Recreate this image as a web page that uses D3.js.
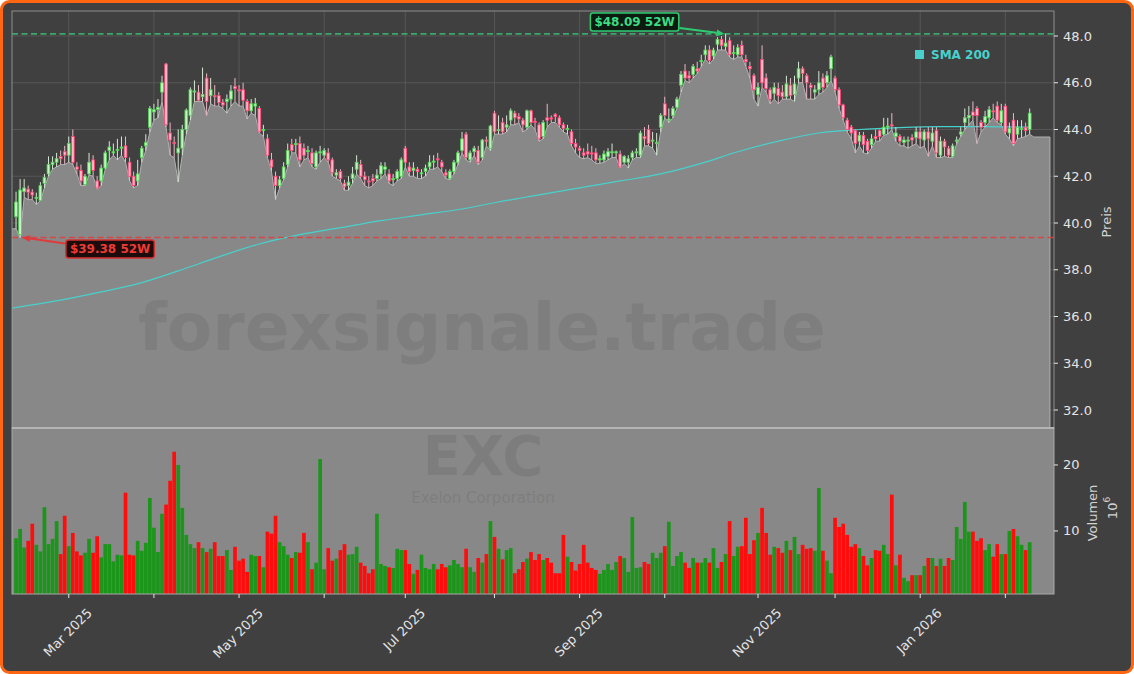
<!DOCTYPE html>
<html lang="de">
<head>
<meta charset="utf-8"/>
<title>EXC – Exelon Corporation</title>
<script src="https://cdn.jsdelivr.net/npm/d3@7/dist/d3.min.js"></script>
<style>
  html, body { margin:0; padding:0; background:#fff; overflow:hidden; }
  svg { display:block; font-family:"DejaVu Sans", sans-serif; }
</style>
</head>
<body>
<svg id="chart" width="1134" height="674"></svg>
<script>
// --- Kursdaten (Index = Handelstag, Feb 2025 .. Feb 2026) ---
const O = [
 40.27,39.50,41.34,41.45,41.32,41.05,40.96,41.70,42.10,42.50,
 42.60,42.85,43.05,42.90,43.70,42.40,42.25,41.65,42.10,42.70,
 41.80,41.80,42.35,43.10,43.00,43.10,43.20,43.30,42.60,42.00,
 41.80,42.80,43.30,44.10,44.75,44.85,45.60,46.80,43.85,43.45,
 43.00,43.20,44.00,44.60,45.60,45.60,45.40,46.20,45.45,45.45,
 45.45,45.15,45.20,45.30,45.85,45.70,45.70,45.20,44.80,45.00,
 44.90,43.95,43.60,42.70,42.00,41.60,41.90,42.50,43.35,43.35,
 43.40,43.20,43.05,43.00,42.40,43.00,42.90,43.00,42.70,42.05,
 42.20,41.70,41.60,41.90,42.30,42.50,42.00,41.80,41.90,41.90,
 42.10,42.30,42.10,41.85,41.90,42.00,43.20,42.40,42.25,42.30,
 42.10,42.20,42.40,42.60,42.75,42.60,42.15,41.90,42.20,42.60,
 43.10,43.80,42.70,43.05,43.10,42.80,43.55,43.20,44.70,43.95,
 44.30,44.10,44.40,44.70,44.55,44.40,44.10,44.80,44.35,44.20,
 43.70,44.50,44.50,44.65,44.50,44.20,44.00,43.90,43.40,43.20,
 43.00,43.05,43.00,43.00,42.70,42.70,42.85,43.00,43.00,42.95,
 42.60,42.60,42.80,43.00,42.90,43.70,44.00,43.50,43.40,44.10,
 45.10,44.40,44.60,44.95,45.90,46.50,46.30,46.35,46.60,46.90,
 47.20,47.40,47.15,47.65,47.85,47.55,47.80,47.25,47.20,47.60,
 47.00,46.70,46.30,45.50,47.00,46.20,45.70,45.55,45.75,45.60,
 45.40,45.90,45.50,46.20,46.60,46.30,45.90,45.60,45.70,46.20,
 46.00,46.60,46.20,45.70,45.05,44.40,44.10,43.95,43.50,43.75,
 43.50,43.35,43.70,43.95,43.80,44.10,44.20,43.70,43.70,43.45,
 43.50,43.65,43.65,43.90,43.55,43.90,43.50,43.95,42.90,43.50,
 43.20,42.85,43.50,43.80,44.30,44.50,44.75,44.90,44.30,44.30,
 44.50,44.80,45.00,44.30,45.00,43.85,44.40,43.80,44.00,44.10,
 44.00
];
const H = [
 41.34,41.88,41.88,41.60,41.45,41.30,41.75,42.10,42.85,42.85,
 43.00,43.10,43.30,43.70,44.00,42.60,42.50,42.10,43.00,42.90,
 42.00,42.50,43.10,43.50,43.40,43.60,43.70,43.70,42.80,42.20,
 42.70,43.30,43.80,45.00,45.10,45.30,46.30,46.85,44.30,43.70,
 44.00,44.20,44.90,45.80,46.10,45.90,46.65,46.40,46.20,45.90,
 45.60,45.30,45.50,45.90,46.20,45.90,46.00,45.30,45.30,45.35,
 45.00,44.20,43.80,43.00,42.20,42.00,42.60,43.40,43.60,43.60,
 43.70,43.40,43.30,43.20,43.10,43.30,43.20,43.20,42.80,42.30,
 42.30,41.85,42.00,42.40,42.90,42.70,42.20,42.00,42.10,42.30,
 42.60,42.60,42.30,42.10,42.30,42.80,43.30,42.60,42.60,42.40,
 42.30,42.50,42.90,42.90,43.00,42.70,42.30,42.30,42.70,43.10,
 43.90,43.90,43.10,43.30,43.30,43.60,43.70,44.20,44.80,44.60,
 44.50,44.60,44.90,44.80,44.70,44.50,44.85,44.85,44.50,44.30,
 44.40,45.10,44.60,44.70,44.60,44.30,44.20,44.00,43.60,43.30,
 43.20,43.40,43.30,43.20,42.90,43.10,43.20,43.40,43.10,43.10,
 42.90,42.90,43.10,43.20,43.95,44.10,44.20,43.90,43.85,44.70,
 45.40,44.90,45.00,45.40,46.50,46.80,46.50,46.80,46.90,47.20,
 47.60,47.60,47.50,47.95,48.00,48.09,47.95,47.60,47.65,47.80,
 47.20,46.90,46.40,46.00,47.60,46.40,45.80,46.00,46.00,45.90,
 46.30,46.20,46.30,46.90,46.70,46.40,46.00,45.90,46.50,46.40,
 46.50,47.20,46.30,45.80,45.10,44.50,44.20,44.00,43.90,43.90,
 43.60,43.80,44.00,44.00,44.50,44.50,44.70,44.10,43.80,43.70,
 43.70,43.80,44.10,44.10,44.00,44.10,44.10,44.10,43.70,43.60,
 43.30,43.40,43.70,44.10,44.90,45.00,45.20,45.00,44.40,44.80,
 45.00,45.10,45.20,45.10,45.10,44.30,44.70,44.40,44.40,44.30,
 44.90
];
const L = [
 39.75,39.38,41.10,41.00,41.00,40.80,40.95,41.50,42.00,42.30,
 42.40,42.50,42.50,42.60,42.50,42.10,41.60,41.60,42.05,42.00,
 41.45,41.60,42.30,42.70,42.90,42.70,42.90,42.60,41.80,41.50,
 41.60,42.60,43.10,43.90,44.40,44.50,45.20,44.10,42.90,42.80,
 41.75,42.90,43.80,44.40,45.20,45.20,45.20,44.60,45.10,45.00,
 45.00,44.90,44.70,45.00,45.20,45.00,45.00,44.45,44.70,44.60,
 43.85,43.70,42.80,42.20,41.00,41.50,41.85,42.40,43.00,43.00,
 42.40,42.70,42.80,42.40,42.30,42.60,42.80,42.60,42.00,41.90,
 41.80,41.40,41.40,41.70,42.10,41.90,41.60,41.50,41.60,41.80,
 41.90,42.10,41.70,41.60,41.80,41.90,42.40,42.00,42.00,41.90,
 41.90,42.00,42.30,42.30,42.40,42.20,41.90,41.85,42.10,42.50,
 43.00,42.70,42.60,42.90,42.50,42.70,43.30,43.10,43.80,43.80,
 43.80,43.90,44.20,44.20,44.30,43.90,44.00,44.20,44.00,43.50,
 43.60,44.10,44.30,44.30,44.10,43.90,43.80,43.30,43.00,42.80,
 42.75,42.80,42.70,42.55,42.55,42.60,42.70,42.80,42.80,42.35,
 42.55,42.35,42.70,42.80,42.80,43.30,43.30,43.20,42.90,43.90,
 44.50,44.30,44.50,44.90,45.60,46.10,46.00,46.20,46.40,46.70,
 47.00,46.80,47.00,47.40,47.40,47.40,47.10,47.00,47.10,47.10,
 46.70,46.20,45.30,45.00,45.80,45.60,45.10,45.30,45.10,45.30,
 45.30,45.30,45.20,46.00,46.00,45.30,45.30,45.30,45.50,45.60,
 45.80,46.10,45.60,44.90,44.40,43.90,43.60,43.00,43.30,43.00,
 42.95,43.20,43.50,43.50,43.75,43.80,44.00,43.50,43.30,43.30,
 43.20,43.30,43.40,43.20,43.30,42.85,43.30,42.80,42.80,42.85,
 42.80,42.80,43.40,43.70,44.00,44.20,44.40,43.40,43.90,44.10,
 44.30,44.50,44.30,44.20,43.80,43.60,43.30,43.60,43.65,43.70,
 43.80
];
const C = [
 40.90,41.41,41.50,41.32,41.20,41.10,41.60,41.95,42.50,42.60,
 42.75,42.75,42.90,43.40,42.60,42.30,41.80,42.00,42.60,42.25,
 41.50,42.35,43.00,43.25,43.05,43.15,43.25,42.80,42.00,41.60,
 42.10,43.20,43.45,44.90,44.85,44.95,46.00,44.20,43.55,43.40,
 43.20,44.00,44.83,45.70,45.65,45.25,45.50,45.20,45.70,45.40,
 45.15,45.05,45.30,45.65,45.75,45.65,45.25,44.80,45.10,45.10,
 43.90,44.00,42.90,42.40,41.60,41.85,42.40,43.10,43.10,43.40,
 42.70,42.90,43.10,42.55,43.00,43.05,43.10,42.70,42.15,42.15,
 41.90,41.55,41.75,42.10,42.60,42.00,41.85,41.75,41.80,42.05,
 42.45,42.40,41.80,41.90,42.20,42.70,42.60,42.20,42.35,42.20,
 42.15,42.35,42.60,42.65,42.70,42.40,42.05,42.20,42.60,43.00,
 43.60,42.80,43.00,43.20,42.60,43.55,43.50,44.15,43.90,44.00,
 43.90,44.20,44.80,44.50,44.45,44.20,44.80,44.30,44.30,43.60,
 44.30,44.40,44.45,44.55,44.20,44.05,44.05,43.40,43.25,43.10,
 42.90,42.95,42.95,42.70,42.75,42.95,43.05,43.05,43.05,42.40,
 42.85,42.75,43.00,43.05,43.85,43.60,43.40,43.55,43.45,44.60,
 44.60,44.45,44.90,45.30,46.35,46.20,46.20,46.70,46.50,46.95,
 47.40,46.95,47.40,47.85,47.60,47.70,47.20,47.30,47.50,47.20,
 46.90,46.60,45.70,45.80,46.00,45.75,45.30,45.80,45.45,45.40,
 45.95,45.45,45.95,46.60,46.40,46.00,45.80,45.70,46.00,45.80,
 46.30,47.10,45.70,45.05,44.50,44.00,43.85,43.40,43.75,43.35,
 43.10,43.60,43.60,43.70,44.10,44.15,44.15,43.85,43.50,43.55,
 43.55,43.55,43.90,43.60,43.90,43.60,43.85,43.00,43.50,43.25,
 42.90,43.30,43.55,43.90,44.50,44.60,44.60,44.60,44.10,44.55,
 44.85,44.75,44.40,44.80,43.90,44.05,43.40,44.10,44.05,43.95,
 44.70
];
// Volumen in Mio.
const V = [
 8.9,10.3,7.5,8.5,11.1,7.9,6.9,13.6,8.0,8.8,
 11.5,6.5,12.3,7.7,9.7,6.9,6.3,6.7,8.8,6.7,
 9.2,6.0,8.0,8.0,5.4,6.4,6.3,15.8,6.4,6.3,
 8.5,7.0,8.2,15.0,10.5,6.8,12.6,14.0,17.6,22.0,
 20.0,13.5,9.4,8.0,7.4,8.3,7.4,6.8,7.3,8.3,
 6.2,6.2,7.1,4.1,7.6,5.5,5.8,3.8,6.4,6.2,
 6.2,4.5,9.9,9.6,12.3,8.3,7.7,6.4,5.9,6.8,
 6.7,9.7,8.3,4.2,5.2,20.9,4.2,7.4,5.5,5.8,
 7.1,8.0,6.4,6.5,7.6,5.2,4.7,3.6,4.2,12.6,
 5.0,4.7,4.5,4.4,7.3,7.1,7.1,5.0,3.5,4.1,
 6.4,4.4,4.2,5.0,4.2,5.0,4.5,4.8,5.6,5.0,
 4.5,7.3,4.5,3.8,5.9,5.2,6.5,11.5,9.1,7.3,
 5.7,7.1,7.4,3.6,4.2,5.3,5.8,6.8,5.6,6.5,
 5.6,5.9,5.2,3.6,3.6,9.4,6.1,5.3,4.0,5.0,
 7.9,5.2,4.4,4.1,3.5,4.1,5.0,4.1,5.3,6.2,
 5.9,3.8,12.1,4.4,4.5,5.3,5.0,6.7,5.9,6.7,
 7.7,11.4,4.7,6.2,6.8,5.2,4.4,5.9,5.2,5.2,
 5.9,5.2,7.4,4.4,5.3,6.5,11.5,6.2,7.6,7.7,
 12.0,6.5,8.6,9.7,13.5,9.7,6.4,7.6,7.4,6.7,
 8.5,7.1,9.1,6.5,7.9,7.3,7.4,7.0,16.5,7.0,
 5.5,3.6,12.0,10.6,11.1,9.4,7.6,8.0,7.4,6.2,
 4.8,5.9,7.1,7.0,7.9,6.5,15.5,4.8,6.4,2.9,
 2.4,3.3,3.3,3.3,4.7,5.9,5.9,4.7,5.8,4.7,
 5.9,5.6,10.6,8.8,14.4,9.9,9.9,8.5,8.9,7.1,
 8.0,6.1,8.0,6.5,6.5,10.0,10.3,9.2,7.9,7.1,
 8.3
];
// Fläche: Rand links/rechts
const areaLeft  = 39.75;
const areaRight = 43.68;
const smaIdx = [-1,11,21,31,40,50,60,70,80,90,100,110,119,129,139,149,159,169,178,188,198,208,218,228,238,250];
const smaVal = [36.36,36.7,37.05,37.45,37.95,38.55,39.1,39.5,39.8,40.1,40.35,40.6,40.9,41.2,41.5,41.8,42.1,42.55,43.05,43.5,43.85,44.0,44.08,44.12,44.12,44.1];
// Monatsanfänge
const monthIdx = [13,34,55,76,96,118,139,160,183,202,223,244];
const monthLbl = ["Mar 2025","","May 2025","","Jul 2025","","Sep 2025","","Nov 2025","","Jan 2026",""];
const priceTicks = [32,34,36,38,40,42,44,46,48];
const volTicks = [10,20];

const svg = d3.select("#chart");
const W = 1134, HH = 674;
const X0 = 12, X1 = 1054, PT = 11, PB = 428, VB = 594;

const x  = d3.scaleLinear().domain([-1, 256]).range([X0, X1]);
const yP = d3.scaleLinear().domain([31.23, 49.07]).range([PB, PT]);
const yV = d3.scaleLinear().domain([0.45, 25.6]).range([VB, PB]);

// Hintergrund + oranger Rahmen
svg.append("rect").attr("x",1.5).attr("y",1.5).attr("width",W-3).attr("height",HH-3)
  .attr("rx",8).attr("fill","#404040").attr("stroke","#ff6612").attr("stroke-width",3);

const defs = svg.append("defs");
defs.append("clipPath").attr("id","clipP").append("rect")
  .attr("x",X0).attr("y",PT).attr("width",X1-X0).attr("height",PB-PT);
defs.append("clipPath").attr("id","clipV").append("rect")
  .attr("x",X0).attr("y",PB).attr("width",X1-X0).attr("height",VB-PB);

// ---------- Preis-Panel ----------
const gP = svg.append("g").attr("clip-path","url(#clipP)");

gP.selectAll("line.gy").data(priceTicks).join("line")
  .attr("x1",X0).attr("x2",X1).attr("y1",d=>yP(d)).attr("y2",d=>yP(d))
  .attr("stroke","#5c5c5c").attr("stroke-width",0.8);
gP.selectAll("line.gx").data(monthIdx).join("line")
  .attr("x1",d=>x(d)).attr("x2",d=>x(d)).attr("y1",PT).attr("y2",PB)
  .attr("stroke","#5c5c5c").attr("stroke-width",0.8);

const areaPts = [[-1, areaLeft], ...L.map((v,i)=>[i,v]), [251, areaRight], [255, areaRight]];
gP.append("path").datum(areaPts)
  .attr("d", d3.area().x(d=>x(d[0])).y0(PB).y1(d=>yP(d[1])))
  .attr("fill","#888888").attr("stroke","#b2b2b2").attr("stroke-width",1);

// Wasserzeichen
gP.append("text").attr("x",482).attr("y",350).attr("text-anchor","middle")
  .attr("font-size",66).attr("font-weight","bold").attr("fill","#000").attr("opacity",0.065)
  .text("forexsignale.trade");

// SMA 200
gP.append("path").datum(smaIdx.map((d,k)=>[d, smaVal[k]]))
  .attr("d", d3.line().x(d=>x(d[0])).y(d=>yP(d[1])).curve(d3.curveMonotoneX))
  .attr("fill","none").attr("stroke","#48d1cc").attr("stroke-width",1.2);

// 52W-Linien
const hiVal = d3.max(H), hiIdx = H.indexOf(hiVal);
const loVal = d3.min(L), loIdx = L.indexOf(loVal);
gP.append("line").attr("x1",X0).attr("x2",X1).attr("y1",yP(hiVal)).attr("y2",yP(hiVal))
  .attr("stroke","#3cb371").attr("stroke-width",1.6).attr("stroke-dasharray","6,3.5").attr("opacity",0.9);
gP.append("line").attr("x1",X0).attr("x2",X1).attr("y1",yP(loVal)).attr("y2",yP(loVal))
  .attr("stroke","#dd4040").attr("stroke-width",1.6).attr("stroke-dasharray","6,3.5").attr("opacity",0.9);

// Kerzen
const idx = d3.range(C.length);
const up = i => C[i] >= O[i];
gP.selectAll("line.wick").data(idx).join("line")
  .attr("x1",i=>x(i)).attr("x2",i=>x(i)).attr("y1",i=>yP(H[i])).attr("y2",i=>yP(L[i]))
  .attr("stroke",i=>up(i) ? "#d4e8d4" : "#eab8c6").attr("stroke-width",1);
gP.selectAll("rect.body").data(idx).join("rect")
  .attr("x",i=>x(i)-1.4).attr("width",2.8)
  .attr("y",i=>yP(Math.max(O[i],C[i])))
  .attr("height",i=>Math.max(0.8, Math.abs(yP(O[i])-yP(C[i]))))
  .attr("fill",i=>up(i) ? "#c4f2c4" : "#ffb6c8")
  .attr("stroke",i=>up(i) ? "#4fd14f" : "#ff3f70").attr("stroke-width",0.8);

// Rahmen Preis-Panel
svg.append("rect").attr("x",X0).attr("y",PT).attr("width",X1-X0).attr("height",PB-PT)
  .attr("fill","none").attr("stroke","#8e8e8e").attr("stroke-width",1);

// Annotationen
function arrow(x1,y1,x2,y2,col){
  const a = Math.atan2(y2-y1,x2-x1), len = 8, hw = 3.5;
  const bx = x2 - len*Math.cos(a), by = y2 - len*Math.sin(a);
  svg.append("line").attr("x1",x1).attr("y1",y1).attr("x2",bx).attr("y2",by)
    .attr("stroke",col).attr("stroke-width",2);
  svg.append("polygon").attr("fill",col).attr("points",[
    [x2,y2],
    [bx - hw*Math.sin(a), by + hw*Math.cos(a)],
    [bx + hw*Math.sin(a), by - hw*Math.cos(a)]
  ].map(p=>p.join(",")).join(" "));
}
function label(cx, cy, txt, col, border, bg){
  const g = svg.append("g");
  const t = g.append("text").attr("x",cx).attr("y",cy+4.5).attr("text-anchor","middle")
    .attr("font-size",12).attr("font-weight","bold").attr("fill",col).text(txt);
  const w = t.node().getComputedTextLength() + 8;
  g.insert("rect","text").attr("x",cx-w/2).attr("y",cy-9).attr("width",w).attr("height",18)
    .attr("rx",2.5).attr("fill",bg).attr("stroke",border).attr("stroke-width",1.5);
}
const hx = x(hiIdx), hy = yP(hiVal);
arrow(hx-46, hy-6, hx-1, hy, "#2ecc71");
label(hx-91, hy-12, "$" + hiVal.toFixed(2) + " 52W", "#3ddc84", "#2ecc71", "#0c1a10");
const lx = x(loIdx), ly = yP(loVal);
arrow(lx+45, ly+6, lx+2, ly, "#e03a3a");
label(lx+90, ly+11.5, "$" + loVal.toFixed(2) + " 52W", "#ee3b36", "#d63031", "#1c0c0c");

// Legende
svg.append("rect").attr("x",915).attr("y",50).attr("width",9).attr("height",9).attr("fill","#48d1cc");
svg.append("text").attr("x",931).attr("y",58.5).attr("font-size",12).attr("font-weight","bold")
  .attr("fill","#48d1cc").text("SMA 200");

// ---------- Volumen-Panel ----------
svg.append("rect").attr("x",X0).attr("y",PB).attr("width",X1-X0).attr("height",VB-PB).attr("fill","#888888");
const gV = svg.append("g").attr("clip-path","url(#clipV)");
gV.append("text").attr("x",483).attr("y",475).attr("text-anchor","middle")
  .attr("font-size",56).attr("font-weight","bold").attr("fill","#000").attr("opacity",0.07).text("EXC");
gV.append("text").attr("x",483).attr("y",503).attr("text-anchor","middle")
  .attr("font-size",15).attr("fill","#000").attr("opacity",0.07).text("Exelon Corporation");
gV.selectAll("rect.vol").data(idx).join("rect")
  .attr("x",i=>x(i)-1.85).attr("width",3.7)
  .attr("y",i=>yV(V[i])).attr("height",i=>VB-yV(V[i]))
  .attr("fill",i=>up(i) ? "#1b961b" : "#ff0d0d");
svg.append("rect").attr("x",X0).attr("y",PB).attr("width",X1-X0).attr("height",VB-PB)
  .attr("fill","none").attr("stroke","#a8a8a8").attr("stroke-width",1);
svg.append("line").attr("x1",X0).attr("x2",X1).attr("y1",PB).attr("y2",PB)
  .attr("stroke","#b4b4b4").attr("stroke-width",2);

// ---------- Achsen ----------
const tickCol = "#e4e4e4";
svg.selectAll("line.pt").data(priceTicks).join("line")
  .attr("x1",X1).attr("x2",X1+4).attr("y1",d=>yP(d)).attr("y2",d=>yP(d)).attr("stroke",tickCol);
svg.selectAll("text.pt").data(priceTicks).join("text")
  .attr("x",X1+9).attr("y",d=>yP(d)+4.5).attr("font-size",13).attr("fill",tickCol)
  .text(d=>d.toFixed(1));
svg.selectAll("line.vt").data(volTicks).join("line")
  .attr("x1",X1).attr("x2",X1+4).attr("y1",d=>yV(d)).attr("y2",d=>yV(d)).attr("stroke",tickCol);
svg.selectAll("text.vt").data(volTicks).join("text")
  .attr("x",X1+9).attr("y",d=>yV(d)+4.5).attr("font-size",13).attr("fill",tickCol)
  .text(d=>d);

svg.append("text").attr("transform","translate(1106,222) rotate(-90)")
  .attr("text-anchor","middle").attr("dominant-baseline","central")
  .attr("font-size",13).attr("fill","#d4d4d4").text("Preis");
svg.append("text").attr("transform","translate(1092,513) rotate(-90)")
  .attr("text-anchor","middle").attr("dominant-baseline","central")
  .attr("font-size",13).attr("fill","#d4d4d4").text("Volumen");
const t6 = svg.append("text").attr("transform","translate(1112,508) rotate(-90)")
  .attr("text-anchor","middle").attr("dominant-baseline","central")
  .attr("font-size",13).attr("fill","#d4d4d4").text("10");
t6.append("tspan").attr("font-size",9).attr("dy",-5).text("6");

svg.selectAll("line.xt").data(monthIdx).join("line")
  .attr("x1",d=>x(d)).attr("x2",d=>x(d)).attr("y1",VB).attr("y2",VB+4).attr("stroke",tickCol);
monthIdx.forEach((d,k)=>{
  if (!monthLbl[k]) return;
  const t = svg.append("text").attr("text-anchor","middle").attr("dominant-baseline","central")
    .attr("font-size",13).attr("fill",tickCol).text(monthLbl[k]);
  const half = (t.node().getComputedTextLength() + 13) * Math.SQRT1_2 / 2;
  t.attr("transform",`translate(${x(d)-1},${606+half}) rotate(-45)`);
});
</script>
</body>
</html>
